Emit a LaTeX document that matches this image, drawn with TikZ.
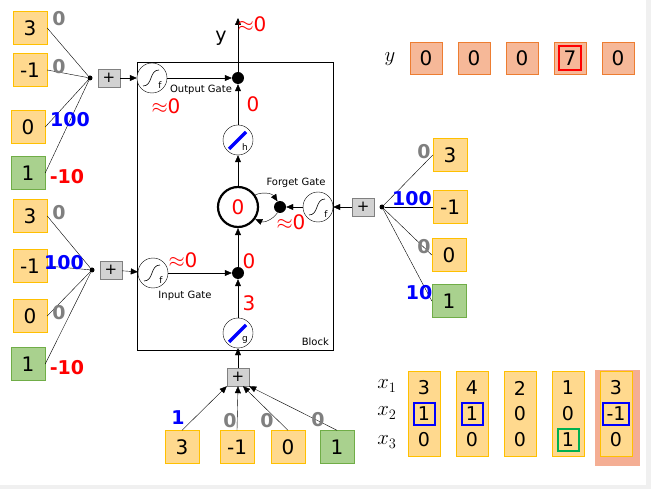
\documentclass[tikz,border=0pt]{standalone}
\usepackage{fontspec}
\setmainfont{DejaVu Sans}
\usetikzlibrary{arrows.meta,positioning,calc}
\definecolor{boxfill}{HTML}{FFD98E}
\definecolor{boxedge}{HTML}{FFC000}
\definecolor{biasfill}{HTML}{A9D18E}
\definecolor{biasedge}{HTML}{70AD47}
\definecolor{yfill}{HTML}{F6B898}
\definecolor{yedge}{HTML}{ED7D31}
\definecolor{pick}{HTML}{F4AE94}
\definecolor{wgray}{HTML}{7F7F7F}
\definecolor{okgreen}{HTML}{00B050}
\tikzset{
  inbox/.style  = {draw=boxedge, fill=boxfill, minimum width=34pt, minimum height=33pt, inner sep=1pt, font=\fontsize{20}{22}\selectfont},
  biasbox/.style= {inbox, draw=biasedge, fill=biasfill},
  ybox/.style   = {draw=yedge, fill=yfill, minimum width=32pt, minimum height=32pt, inner sep=1pt, font=\fontsize{20}{22}\selectfont},
  sumbox/.style = {draw=gray, fill=gray!35, minimum width=22pt, minimum height=18pt, inner sep=0pt, font=\fontsize{15}{16}\selectfont},
  joint/.style  = {circle, fill, inner sep=0pt, minimum size=5pt},
  mult/.style   = {circle, fill, inner sep=0pt, minimum size=12pt},
  sigm/.style   = {circle, draw, fill=white, minimum size=30pt, inner sep=0pt,
    path picture={
      \draw[semithick] ([xshift=-9pt,yshift=-8pt]path picture bounding box.center)
        .. controls +(10pt,0pt) and +(-10pt,0pt) .. ([xshift=7pt,yshift=8pt]path picture bounding box.center);
      \node[font=\fontsize{9}{10}\selectfont, inner sep=0pt] at ([xshift=8pt,yshift=-7pt]path picture bounding box.center) {#1};}},
  lin/.style    = {circle, draw, fill=white, minimum size=30pt, inner sep=0pt,
    path picture={
      \draw[blue, line width=3.5pt] ([xshift=-9pt,yshift=-9pt]path picture bounding box.center)
        -- ([xshift=8pt,yshift=8pt]path picture bounding box.center);
      \node[font=\fontsize{9}{10}\selectfont, inner sep=0pt] at ([xshift=7pt,yshift=-7pt]path picture bounding box.center) {#1};}},
  cell/.style   = {circle, draw, line width=2.2pt, minimum size=40pt, inner sep=0pt, text=red, font=\fontsize{20}{22}\selectfont},
  w/.style      = {font=\fontsize{19}{21}\selectfont\bfseries, inner sep=0pt},
  wz/.style     = {w, text=wgray},
  wp/.style     = {w, text=blue},
  wn/.style     = {w, text=red},
  val/.style    = {text=red, font=\fontsize{20}{22}\selectfont, inner sep=0pt},
  small/.style  = {font=\fontsize{10}{12}\selectfont, inner sep=0pt},
  post/.style   = {-{Triangle[length=7pt,width=6pt]}},
  mark/.style   = {draw=#1, line width=2pt, minimum width=21pt, minimum height=22pt}
}
\begin{document}
\begin{tikzpicture}[x=1pt,y=-1pt]
  \fill[gray!12] (0,0) rectangle (651,489);
  \fill[white] (0,0) rectangle (646,485);
  \useasboundingbox (0,0) rectangle (651,489);
  % block
  \draw[semithick] (137,62) rectangle (333,350);
  \node[small, anchor=south east] (blk) at (329,346) {Block};
  % output gate inputs
  \node[inbox] (o1) at (30,28) {3};
  \node[inbox] (o2) at (30,70) {-1};
  \node[inbox] (o3) at (28,127) {0};
  \node[biasbox] (o4) at (28,173) {1};
  \node[joint] (oj) at (90,78) {};
  \node[sumbox, right=5pt of oj] (osum) {+};
  \foreach \b in {o1,o2,o3,o4} \draw (\b.east) -- (oj);
  \node[wz] at (59,19) {0};
  \node[wz] at (59,67) {0};
  \node[wp] at (70,120) {100};
  \node[wn] at (67,177) {-10};
  % input gate inputs
  \node[inbox] (i1) at (30,216) {3};
  \node[inbox] (i2) at (30,266) {-1};
  \node[inbox] (i3) at (30,316) {0};
  \node[biasbox] (i4) at (28,364) {1};
  \node[joint] (ij) at (92,270) {};
  \node[sumbox, right=5pt of ij] (isum) {+};
  \foreach \b in {i1,i2,i3,i4} \draw (\b.east) -- (ij);
  \node[wz] at (59,213) {0};
  \node[wp] at (64,263) {100};
  \node[wz] at (59,313) {0};
  \node[wn] at (67,368) {-10};
  % forget gate inputs
  \node[inbox] (f1) at (450,155) {3};
  \node[inbox] (f2) at (450,207) {-1};
  \node[inbox] (f3) at (449,255) {0};
  \node[biasbox] (f4) at (449,301) {1};
  \node[joint] (fj) at (382,207) {};
  \node[sumbox, left=5pt of fj] (fsum) {+};
  \foreach \b in {f1,f2,f3,f4} \draw (\b.west) -- (fj);
  \node[wz] at (424,152) {0};
  \node[wp] at (412,199) {100};
  \node[wz] at (424,247) {0};
  \node[wp] at (419,293) {10};
  % cell input
  \node[inbox] (c1) at (182,447) {3};
  \node[inbox] (c2) at (237,447) {-1};
  \node[inbox] (c3) at (288,447) {0};
  \node[biasbox] (c4) at (337,447) {1};
  \node[sumbox] (csum) at (238,377) {+};
  \draw[post] (c1.north) -- (csum.south west);
  \draw[post] (c2.north) -- (csum.south);
  \draw[post] (c3.north) -- ([xshift=5pt]csum.south);
  \draw[post] (c4.north) -- (csum.south east);
  \node[wp] at (178,418) {1};
  \node[wz] at (230,421) {0};
  \node[wz] at (267,421) {0};
  \node[wz] at (318,420) {0};
  % inside the block
  \node[sigm=f] (og) at (152,78) {};
  \node[mult] (om) at (238,78) {};
  \node[lin=h] (hh) at (238,140) {};
  \node[cell] (cc) at (238,207) {0};
  \node[mult] (fm) at (280,207) {};
  \node[sigm=f] (fg) at (318,207) {};
  \node[sigm=f] (ig) at (153,273) {};
  \node[mult] (im) at (238,273) {};
  \node[lin=g] (gg) at (238,333) {};
  \coordinate (yout) at (238,18);
  \draw[post] (osum) -- (og);
  \draw[post] (og) -- (om);
  \draw[post] (om) -- (yout);
  \draw[post] (hh) -- (om);
  \draw[post] (cc) -- (hh);
  \draw[post] (fsum) -- (fg);
  \draw[post] (fg) -- (fm);
  \draw[post] (cc.35) to[bend left=40] (fm);
  \draw[post] (fm) to[bend left=40] (cc.-35);
  \draw[post] (isum) -- (ig);
  \draw[post] (ig) -- (im);
  \draw[post] (im) -- (cc);
  \draw[post] (gg) -- (im);
  \draw[post] (csum) -- (gg);
  % labels
  \node[font=\fontsize{19}{20}\selectfont] (ylab) at (221,38) {y};
  \node[val] at (252,24) {$\approx$0};
  \node[small] at (201,90) {Output Gate};
  \node[val] at (166,106) {$\approx$0};
  \node[val] at (253,104) {0};
  \node[small] at (296,183) {Forget Gate};
  \node[val] at (291,222) {$\approx$0};
  \node[val] at (183,260) {$\approx$0};
  \node[small] at (185,296) {Input Gate};
  \node[val] at (249,261) {0};
  \node[val] at (249,303) {3};
  % target row
  \node[font=\fontsize{22}{24}\selectfont] (ysym) at (390,59) {$y$};
  \foreach \v [count=\k] in {0,0,0,7,0}
    \node[ybox] (y\k) at ({378+48*\k},58) {\v};
  \node[mark=red, minimum width=22pt, minimum height=24pt] at (y4) {};
  % input sequence
  \fill[pick] (595,370) rectangle (640,466);
  \foreach \a/\b/\c [count=\k] in {3/1/0,4/1/0,2/0/0,1/0/1,3/-1/0} {
    \node[draw=boxedge, fill=boxfill, minimum width=32pt, minimum height=85pt] (col\k) at ({376+48*\k},414) {};
    \node[font=\fontsize{19}{20}\selectfont] (r1c\k) at ({376+48*\k},388) {\a};
    \node[font=\fontsize{19}{20}\selectfont] (r2c\k) at ({376+48*\k},414) {\b};
    \node[font=\fontsize{19}{20}\selectfont] (r3c\k) at ({376+48*\k},440) {\c};
  }
  \node[mark=blue] at (r2c1) {};
  \node[mark=blue] at (r2c2) {};
  \node[mark=blue, minimum width=26pt] at (r2c5) {};
  \node[mark=okgreen] at (r3c4) {};
  \node[font=\fontsize{21}{22}\selectfont] (x1) at (387,386) {$x_1$};
  \node[font=\fontsize{21}{22}\selectfont] (x2) at (387,413) {$x_2$};
  \node[font=\fontsize{21}{22}\selectfont] (x3) at (387,442) {$x_3$};
\end{tikzpicture}
\end{document}
